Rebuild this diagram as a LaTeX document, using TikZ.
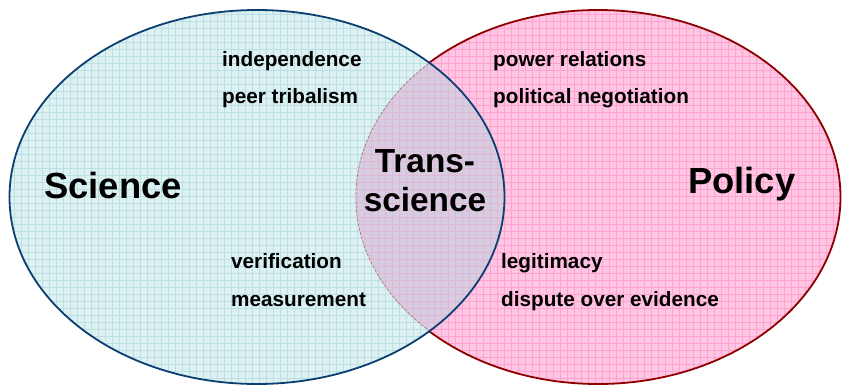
\documentclass[tikz,border=0pt]{standalone}
\usepackage{fontspec}
\setmainfont{Liberation Sans}
\definecolor{scifill}{HTML}{DDF1F2}
\definecolor{sciline}{HTML}{BBE0E3}
\definecolor{polfill}{HTML}{FFC6E3}
\definecolor{polline}{HTML}{FFA2CF}
\definecolor{bothfill}{HTML}{D6CDE0}
\definecolor{bothline}{HTML}{E0B8D6}
\definecolor{sciedge}{HTML}{0B3F72}
\definecolor{poledge}{HTML}{8E0000}
\definecolor{hiddenedge}{HTML}{A87A7A}
\tikzset{
  itemtext/.style={anchor=base west, inner sep=0pt, font=\bfseries\fontsize{20.8}{24}\selectfont},
  bigtext/.style={anchor=base west, inner sep=0pt, font=\bfseries\fontsize{36.5}{40}\selectfont},
  gridline/.style={line width=0.5bp}
}
\begin{document}
\begin{tikzpicture}[x=1bp,y=-1bp]
      \useasboundingbox (0,0) rectangle (842,386);

      % Policy oval, fill and grid
      \fill[polfill] (598,197) ellipse [x radius=242.5, y radius=187];
      \begin{scope}
        \clip (598,197) ellipse [x radius=242.5, y radius=187];
        \foreach \gx in {0,7,...,840} \draw[gridline, polline] (\gx,0) -- (\gx,386);
        \foreach \gy in {0,7,...,385} \draw[gridline, polline] (0,\gy) -- (842,\gy);
      \end{scope}
      \draw[poledge, line width=1.8bp] (598,197) ellipse [x radius=242.5, y radius=187];

      % Science oval, fill and grid
      \fill[scifill] (257,197) ellipse [x radius=247.5, y radius=187];
      \begin{scope}
        \clip (257,197) ellipse [x radius=247.5, y radius=187];
        \foreach \gx in {0,7,...,840} \draw[gridline, sciline] (\gx,0) -- (\gx,386);
        \foreach \gy in {0,7,...,385} \draw[gridline, sciline] (0,\gy) -- (842,\gy);
      \end{scope}

      % The overlap of both
      \begin{scope}
        \clip (257,197) ellipse [x radius=247.5, y radius=187];
        \clip (598,197) ellipse [x radius=242.5, y radius=187];
        \fill[bothfill] (0,0) rectangle (842,386);
        \foreach \gx in {0,7,...,840} \draw[gridline, bothline] (\gx,0) -- (\gx,386);
        \foreach \gy in {0,7,...,385} \draw[gridline, bothline] (0,\gy) -- (842,\gy);
        \draw[hiddenedge, line width=1.4bp, dash pattern=on 3bp off 1.5bp] (598,197) ellipse [x radius=242.5, y radius=187];
      \end{scope}
      \draw[sciedge, line width=1.8bp] (257,197) ellipse [x radius=247.5, y radius=187];

      % Big labels
      \node[bigtext] (science) at (44,198) {Science};
      \node[bigtext] (policy) at (688,193) {Policy};
      \node[align=center, inner sep=0pt, font=\bfseries\fontsize{33.5}{39}\selectfont] (trans) at (425,181) {Trans-\\science};

      % Science side
      \node[itemtext] (indep) at (222,66) {independence};
      \node[itemtext] (tribal) at (222,103) {peer tribalism};
      \node[itemtext] (verif) at (231,268) {verification};
      \node[itemtext] (measure) at (231,306) {measurement};

      % Policy side
      \node[itemtext] (power) at (493,66) {power relations};
      \node[itemtext] (negot) at (493,103) {political negotiation};
      \node[itemtext] (legit) at (501,268) {legitimacy};
      \node[itemtext] (dispute) at (501,306) {dispute over evidence};
    \end{tikzpicture}
\end{document}
